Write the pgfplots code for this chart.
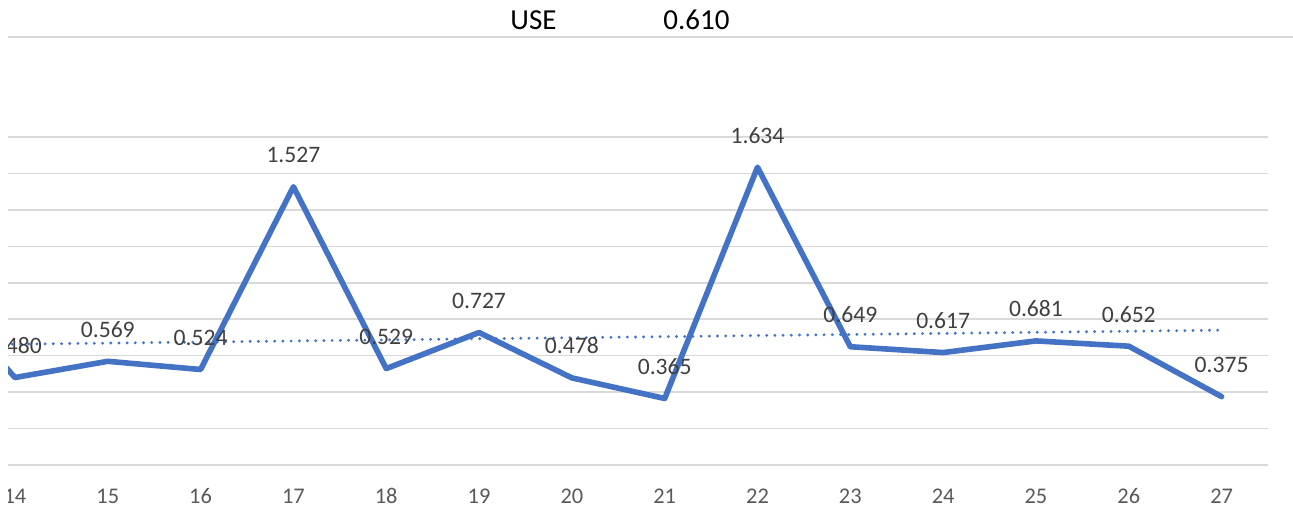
\documentclass[border=0pt]{standalone}
\usepackage{fontspec}
\setmainfont{Carlito}
\usepackage{pgfplots}
\pgfplotsset{compat=1.18}
\definecolor{ser}{HTML}{4472C4}
\definecolor{gridc}{HTML}{D9D9D9}
\definecolor{lab}{HTML}{404040}
\definecolor{tickc}{HTML}{595959}
\begin{document}
\begin{tikzpicture}
\useasboundingbox (0,0) rectangle (646.5pt,261.5pt);
\draw[gridc, line width=0.75pt] (4pt,243pt) -- (646.5pt,243pt);
\node[anchor=base west, inner sep=0pt, font=\fontsize{14.5}{17}\selectfont] at (255pt,246.9pt) {USE};
\node[anchor=base west, inner sep=0pt, font=\fontsize{14.5}{17}\selectfont] at (331.5pt,246.9pt) {0.610};
\begin{scope}
\clip (4pt,0pt) rectangle (646.5pt,261.5pt);
\begin{axis}[
  at={(4pt,29pt)}, anchor=south west,
  scale only axis, width=630pt, height=164pt,
  xmin=13.925, xmax=27.5, ymin=0, ymax=1.8,
  ytick={0,0.2,0.4,0.6,0.8,1.0,1.2,1.4,1.6,1.8},
  yticklabels={},
  xtick={14,15,16,17,18,19,20,21,22,23,24,25,26,27},
  xticklabels={14,15,16,17,18,19,20,21,22,23,24,25,26,27},
  xticklabel style={anchor=base, yshift=-19.5pt, inner sep=0pt, text=tickc, font=\fontsize{11.2}{13}\selectfont},
  ymajorgrids, major grid style={gridc, line width=0.75pt},
  axis line style={draw=none},
  tick style={draw=none},
  /pgf/number format/assume math mode=true,
  clip=false,
]
\addplot[ser, line width=2.8pt, line join=round, line cap=round,
  nodes near coords,
  point meta=y,
  nodes near coords style={anchor=base, yshift=12pt, inner sep=0pt, text=lab, font=\fontsize{11.8}{14}\selectfont,
    /pgf/number format/.cd, fixed, fixed zerofill, precision=3},
] coordinates {
(13,1.05)
(14,0.480) (15,0.569) (16,0.524) (17,1.527) (18,0.529) (19,0.727) (20,0.478)
(21,0.365) (22,1.634) (23,0.649) (24,0.617) (25,0.681) (26,0.652) (27,0.375)
};
\addplot[ser, line width=1.6pt, line cap=round, dash pattern=on 0pt off 4.1pt] coordinates {
(13,0.657) (27,0.740)
};
\end{axis}
\end{scope}
\end{tikzpicture}
\end{document}
